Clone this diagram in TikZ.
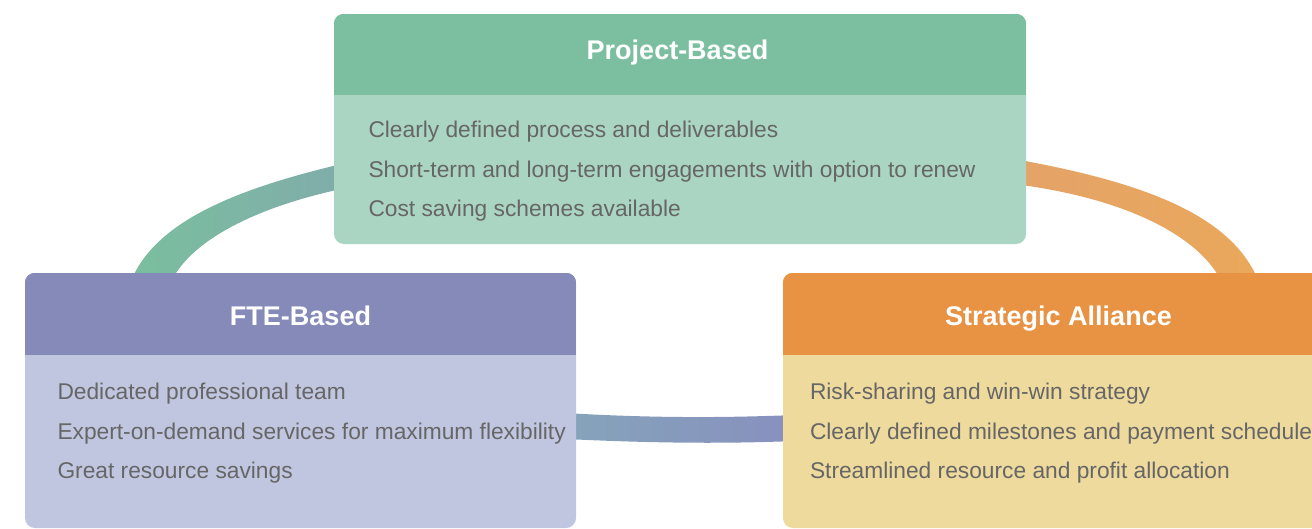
\documentclass[tikz,border=0pt]{standalone}
\usepackage{fontspec}
\setmainfont{Liberation Sans}
\usetikzlibrary{calc}
\pgfdeclarelayer{bg}
\pgfsetlayers{bg,main}
\definecolor{phead}{HTML}{7BBFA0}
\definecolor{pbody}{HTML}{AAD5C2}
\definecolor{fhead}{HTML}{868AB9}
\definecolor{fbody}{HTML}{C1C6E0}
\definecolor{shead}{HTML}{E89244}
\definecolor{sbody}{HTML}{EEDA9D}
\definecolor{txtgray}{HTML}{666666}
\definecolor{lbandA}{HTML}{7ABF9E}
\definecolor{lbandB}{HTML}{81ACAA}
\definecolor{rbandA}{HTML}{E4A368}
\definecolor{rbandB}{HTML}{EAA85B}
\definecolor{bbandA}{HTML}{86A4BB}
\definecolor{bbandB}{HTML}{8790BE}
\begin{document}
\begin{tikzpicture}[x=1pt,y=-1pt,
  card/.style={rectangle, rounded corners=10pt, inner sep=0pt, draw=none},
  ttl/.style={font=\fontsize{27}{32}\selectfont\bfseries, text=white, anchor=base, inner sep=0pt},
  itm/.style={font=\fontsize{22.75}{27}\selectfont, text=txtgray, anchor=base west, inner sep=0pt}]
\clip (0,0) rectangle (1312,528);
% Project-Based
\node[card, fill=pbody, minimum width=692pt, minimum height=230pt] (P) at (680,129) {};
\begin{scope}
  \clip[rounded corners=10pt] (P.south west) rectangle (P.north east);
  \fill[phead] (P.north west) rectangle ($(P.north east)+(0,81)$);
\end{scope}
\node[ttl] (Pt) at ($(P.north)+(-2.5,45.5)$) {Project-Based};
\node[itm] (P1) at ($(P.north west)+(34.5,123.3)$) {Clearly defined process and deliverables};
\node[itm] (P2) at ($(P.north west)+(34.5,163.3)$) {Short-term and long-term engagements with option to renew};
\node[itm] (P3) at ($(P.north west)+(34.5,203)$) {Cost saving schemes available};
% FTE-Based
\node[card, fill=fbody, minimum width=551pt, minimum height=255pt] (F) at (300.5,400.5) {};
\begin{scope}
  \clip[rounded corners=10pt] (F.south west) rectangle (F.north east);
  \fill[fhead] (F.north west) rectangle ($(F.north east)+(0,82)$);
\end{scope}
\node[ttl] (Ft) at ($(F.north)+(0,52.5)$) {FTE-Based};
\node[itm] (F1) at ($(F.north west)+(32.5,126.3)$) {Dedicated professional team};
\node[itm] (F2) at ($(F.north west)+(32.5,166.3)$) {Expert-on-demand services for maximum flexibility};
\node[itm] (F3) at ($(F.north west)+(32.5,206)$) {Great resource savings};
% Strategic Alliance
\node[card, fill=sbody, minimum width=551pt, minimum height=255pt] (S) at (1058.5,400.5) {};
\begin{scope}
  \clip[rounded corners=10pt] (S.south west) rectangle (S.north east);
  \fill[shead] (S.north west) rectangle ($(S.north east)+(0,82)$);
\end{scope}
\node[ttl] (St) at ($(S.north)+(0,52.5)$) {Strategic Alliance};
\node[itm] (S1) at ($(S.north west)+(27,126.3)$) {Risk-sharing and win-win strategy};
\node[itm] (S2) at ($(S.north west)+(27,166.3)$) {Clearly defined milestones and payment schedule};
\node[itm] (S3) at ($(S.north west)+(27,206)$) {Streamlined resource and profit allocation};
% connectors (behind)
\begin{pgfonlayer}{bg}
\shade[left color=lbandA, right color=lbandB]
  ($(P.west)+(12,34)$) .. controls +(-116,27) and +(20,-65) .. ($(F.north west)+(103,17)$)
  -- ($(F.north west)+(143,17)$) .. controls +(15,-45) and +(-96,20) .. ($(P.west)+(12,59)$) -- cycle;
\shade[left color=rbandA, right color=rbandB]
  ($(P.east)+(-12,30)$) .. controls +(146,26) and +(-22,-68) .. ($(S.north west)+(479,17)$)
  -- ($(S.north west)+(442,17)$) .. controls +(-15,-45) and +(126,16) .. ($(P.east)+(-12,55)$) -- cycle;
\shade[left color=bbandA, right color=bbandB]
  ($(F.east)+(-11,12.5)$) .. controls +(85,5) and +(-75,3) .. ($(S.west)+(12,14.5)$)
  -- ($(S.west)+(12,40.5)$) .. controls +(-75,3) and +(85,4) .. ($(F.east)+(-11,38.5)$) -- cycle;
\end{pgfonlayer}
\end{tikzpicture}
\end{document}
